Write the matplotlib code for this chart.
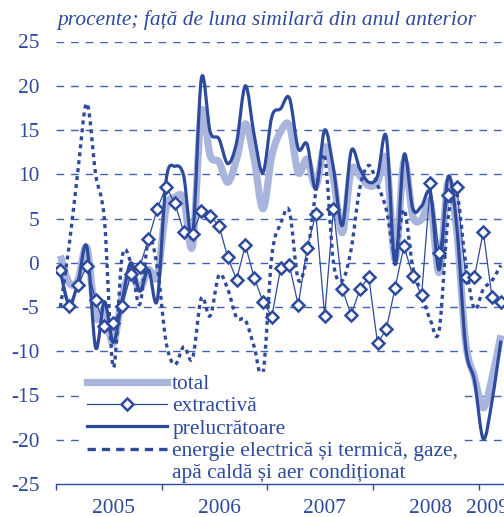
import numpy as np
import matplotlib
matplotlib.use('Agg')
import matplotlib.pyplot as plt
from matplotlib.path import Path
from matplotlib.patches import PathPatch
from matplotlib.lines import Line2D

# monthly values, Jan 2005 - Mar 2009 (% y/y)
total = [0.8, -2.3, -1.9, 1.7, -6.1, -5.3, -9.1, -3.8, -1.1, -3.0, -0.8, -1.5,
         6.1, 7.4, 7.2, 1.9, 17.0, 12.1, 11.4, 9.1, 11.7, 15.7, 11.7, 6.1,
         12.1, 14.8, 15.5, 10.2, 11.7, 8.7, 13.1, 9.5, 3.4, 10.4, 9.8, 8.7,
         9.1, 11.7, 0.4, 11.4, 5.3, 4.9, 6.8, -1.1, 9.1, 3.5, -9.0, -12.9,
         -16.4, -13.0, -8.2]
extractiva = [-0.8, -4.85, -2.5, -0.4, -4.2, -7.2, -6.8, -4.9, -1.3, -0.45, 2.65, 6.1,
              8.6, 6.7, 3.5, 3.3, 5.8, 5.3, 4.2, 0.6, -1.9, 2.0, -1.7, -4.4,
              -6.1, -0.6, -0.3, -4.8, 1.7, 5.5, -6.0, 6.1, -3.0, -5.9, -3.0, -1.6,
              -9.1, -7.5, -2.8, 1.9, -1.5, -3.7, 9.0, 1.1, 7.6, 8.6, -1.6, -1.6,
              3.5, -3.9, -4.4]
prelucratoare = [-1.0, -4.8, -2.2, 1.8, -9.6, -4.4, -9.0, -4.3, 0.0, -3.2, -0.8, -4.2,
                 9.3, 10.9, 9.8, 3.0, 20.8, 14.8, 14.0, 11.2, 13.6, 20.0, 14.4, 10.2,
                 16.5, 17.4, 18.6, 12.9, 13.4, 8.3, 15.0, 10.6, 4.2, 12.6, 10.6, 9.1,
                 9.8, 14.2, -0.2, 12.2, 6.1, 6.4, 7.8, -0.8, 9.7, 4.0, -9.5, -13.3,
                 -19.9, -15.6, -8.8]
energie = [-5.0, 2.0, 10.5, 18.0, 10.0, 4.8, -11.8, 0.6, 0.0, -4.7, 2.6, -0.5,
           -9.0, -11.5, -9.5, -10.8, -4.0, -6.0, -1.4, -3.0, -6.2, -6.5, -9.5, -12.5,
           0.8, 4.4, 5.8, -1.9, 0.8, 8.0, 12.0, 0.0, -2.0, 1.5, 8.5, 11.0,
           8.8, 6.0, 1.0, 6.0, -0.5, -3.5, -6.5, -7.6, 5.0, 7.8, 0.0, -5.2,
           -3.0, -2.0, -0.3]
years = ['2005', '2006', '2007', '2008', '2009']
labels = ['total', 'extractivă', 'prelucrătoare',
          'energie electrică și termică, gaze,', 'apă caldă și aer condiționat']

blue = '#2d4a9c'
light = '#a9b5dc'
font = 'Liberation Serif'
fs = 15.4

def smooth_path(x, y):
    # excel-like smoothed line, cubic bezier through the points
    x = np.asarray(x, float)
    y = np.asarray(y, float)
    n = len(x)
    verts = [(x[0], y[0])]
    codes = [Path.MOVETO]
    for i in range(n - 1):
        a = max(i - 1, 0)
        b = min(i + 2, n - 1)
        c1 = (x[i] + (x[i + 1] - x[a]) / 6, y[i] + (y[i + 1] - y[a]) / 6)
        c2 = (x[i + 1] - (x[b] - x[i]) / 6, y[i + 1] - (y[b] - y[i]) / 6)
        verts += [c1, c2, (x[i + 1], y[i + 1])]
        codes += [Path.CURVE4] * 3
    return Path(verts, codes)

m = np.arange(len(total))

fig = plt.figure(figsize=(5.04, 5.17), dpi=100)
ax = fig.add_axes([56 / 504, 33 / 517, 475.7 / 504, 442.5 / 517])

ax.add_patch(PathPatch(smooth_path(m, total), fc='none', ec=light, lw=5.2,
                       joinstyle='round', capstyle='butt', zorder=2))
ax.add_patch(PathPatch(smooth_path(m, prelucratoare), fc='none', ec=blue, lw=2.3,
                       joinstyle='round', zorder=3))
ax.add_patch(PathPatch(smooth_path(m, energie), fc='none', ec=blue, lw=2.4,
                       linestyle=(0, (1.2, 1.2)), capstyle='butt', zorder=3))
ax.plot(m, extractiva, color=blue, lw=0.9, marker='D', ms=6, mfc='white',
        mec=blue, mew=1.8, zorder=4)

ax.set_xlim(-0.5, 53.5)
ax.set_ylim(-25, 25)
ax.set_yticks(np.arange(-25, 26, 5))
ax.set_yticklabels([str(v) for v in range(-25, 26, 5)])
for v in range(-20, 26, 5):
    ax.axhline(v, color='#4360b0', lw=1.0, ls=(0, (5.5, 5)), zorder=1)

for s in ['left', 'right', 'top']:
    ax.spines[s].set_visible(False)
ax.spines['bottom'].set_color(blue)
ax.spines['bottom'].set_linewidth(1.0)
ax.spines['bottom'].set_zorder(8)
ax.xaxis.set_zorder(8)

ax.set_xticks([-0.5, 11.5, 23.5, 35.5, 47.5])
ax.set_xticklabels([])
ax.set_xticks([6, 18, 30, 42, 48.5], minor=True)
ax.set_xticklabels(years, minor=True)
ax.tick_params(axis='x', which='major', length=4, width=1, color=blue, direction='out')
ax.tick_params(axis='x', which='minor', length=0, pad=10.5)
ax.tick_params(axis='y', length=0, pad=12)
for t in ax.get_xticklabels(minor=True) + ax.get_yticklabels():
    t.set_fontfamily(font)
    t.set_fontsize(fs)
    t.set_color(blue)

fig.text(57 / 504, 1 - 20 / 517, 'procente; față de luna similară din anul anterior',
         family=font, style='italic', fontsize=fs, color=blue, va='center', ha='left')

handles = [
    Line2D([], [], color=light, lw=5.2),
    Line2D([], [], color=blue, lw=0.9, marker='D', ms=6, mfc='white', mec=blue, mew=1.8),
    Line2D([], [], color=blue, lw=2.3),
    Line2D([], [], color=blue, lw=2.4, ls=(0, (2.5, 1.8))),
    Line2D([], [], color='none', lw=0),
]
leg = ax.legend(handles, labels, loc='upper left',
                bbox_to_anchor=(85 / 504, 1 - 372 / 517), bbox_transform=fig.transFigure,
                prop={'family': font, 'size': fs}, handlelength=3.75, handletextpad=0.23,
                labelspacing=0.11, borderpad=0.1, borderaxespad=0, frameon=True,
                fancybox=False, framealpha=1, edgecolor='white', facecolor='white')
for t in leg.get_texts():
    t.set_color(blue)
leg.set_zorder(6)

fig.savefig('out.png', dpi=100)
